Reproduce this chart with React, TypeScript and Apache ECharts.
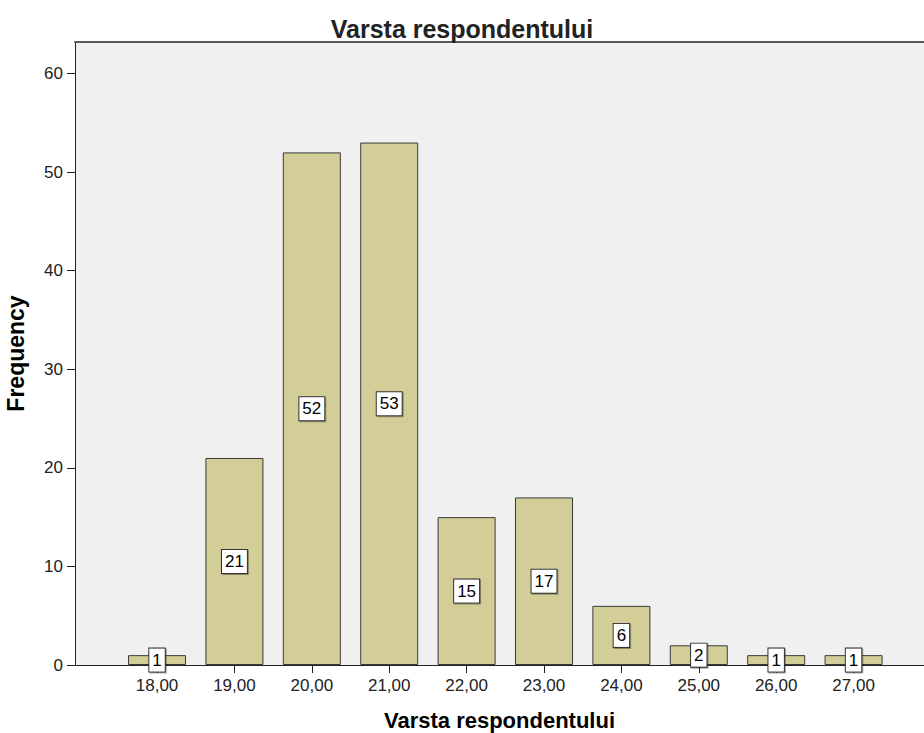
import React, { useEffect, useRef } from "react";
import * as echarts from "echarts";

const ages = [18, 19, 20, 21, 22, 23, 24, 25, 26, 27];
const frequencies = [1, 21, 52, 53, 15, 17, 6, 2, 1, 1];
const yTicks = [0, 10, 20, 30, 40, 50, 60];

const FONT = "Arial, 'Liberation Sans', sans-serif";
const X_MIN = 16.94;
const X_MAX = 27.91;

export default function App() {
  const ref = useRef<HTMLDivElement>(null);
  useEffect(() => {
    if (!ref.current) return;
    const chart = echarts.init(ref.current, null, { renderer: "svg" });
    chart.setOption({
      animation: false,
      backgroundColor: "#ffffff",
      textStyle: { fontFamily: FONT },
      title: {
        text: "Varsta respondentului",
        left: "center",
        top: 11,
        textStyle: { fontFamily: FONT, fontSize: 25, fontWeight: "bold", color: "#222" },
      },
      grid: {
        left: 75,
        top: 42,
        right: 0,
        bottom: 68,
        containLabel: false,
        outerBoundsMode: "none",
        show: true,
        backgroundColor: "#f0f0f0",
        borderWidth: 0,
      },
      xAxis: [
        {
          type: "value",
          min: X_MIN,
          max: X_MAX,
          splitLine: { show: false },
          axisLine: { show: true, onZero: false, lineStyle: { color: "#222", width: 1 } },
          axisTick: { show: true, length: 8, customValues: ages, lineStyle: { color: "#222" } },
          axisLabel: {
            customValues: ages,
            formatter: (v: number) => v.toFixed(2).replace(".", ","),
            fontFamily: FONT,
            fontSize: 17,
            color: "#222",
            margin: 12,
          },
          name: "Varsta respondentului",
          nameLocation: "middle",
          nameGap: 44,
          nameTextStyle: { fontFamily: FONT, fontSize: 22, fontWeight: "bold", color: "#000" },
        },
        {
          type: "value",
          position: "top",
          min: X_MIN,
          max: X_MAX,
          splitLine: { show: false },
          axisLine: { show: true, onZero: false, lineStyle: { color: "#5a5a5a", width: 2 } },
          axisTick: { show: false },
          axisLabel: { show: false },
        },
      ],
      yAxis: {
        type: "value",
        min: 0,
        max: 63.2,
        splitLine: { show: false },
        axisLine: { show: true, lineStyle: { color: "#222", width: 1 } },
        axisTick: { show: true, length: 8, customValues: yTicks, lineStyle: { color: "#222" } },
        axisLabel: {
          customValues: yTicks,
          fontFamily: FONT,
          fontSize: 17,
          color: "#222",
          margin: 12,
        },
        name: "Frequency",
        nameLocation: "middle",
        nameGap: 48,
        nameTextStyle: { fontFamily: FONT, fontSize: 23, fontWeight: "bold", color: "#000" },
      },
      series: [
        {
          type: "bar",
          xAxisIndex: 0,
          data: ages.map((a, i) => [a, frequencies[i]]),
          barWidth: 58,
          itemStyle: { color: "#d3ce97", borderColor: "#3a3a3a", borderWidth: 1 },
          label: {
            show: true,
            position: "inside",
            formatter: (p: any) => String(p.value[1]),
            fontFamily: FONT,
            fontSize: 17,
            lineHeight: 18,
            color: "#000",
            backgroundColor: "#ffffff",
            borderColor: "#333333",
            borderWidth: 1,
            padding: [3, 3, 2, 3],
            shadowColor: "rgba(0,0,0,0.35)",
            shadowOffsetX: 1,
            shadowOffsetY: 1,
            shadowBlur: 1,
          },
        },
      ],
    });
    return () => chart.dispose();
  }, []);
  return (
    <div
      ref={ref}
      style={{ position: "absolute", left: 0, top: 0, width: 924, height: 733 }}
    />
  );
}
